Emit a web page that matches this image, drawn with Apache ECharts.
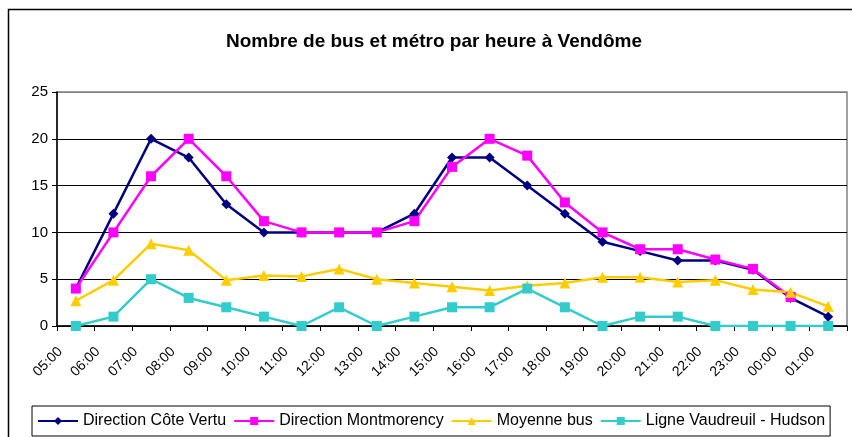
<!DOCTYPE html>
<html>
<head>
<meta charset="utf-8">
<script src="https://cdn.jsdelivr.net/npm/echarts@6/dist/echarts.min.js"></script>
<style>
  html, body { margin: 0; padding: 0; background: #fff; }
  #chart { width: 852px; height: 437px; }
</style>
</head>
<body>
<div id="chart"></div>
<script>
// Hourly departures at Vendôme
const hours = ['05:00','06:00','07:00','08:00','09:00','10:00','11:00','12:00','13:00','14:00','15:00','16:00','17:00','18:00','19:00','20:00','21:00','22:00','23:00','00:00','01:00'];
const coteVertu = [4, 12, 20, 18, 13, 10, 10, 10, 10, 12, 18, 18, 15, 12, 9, 8, 7, 7, 6, 3, 1];
const montmorency = [4, 10, 16, 20, 16, 11.2, 10, 10, 10, 11.2, 17, 20, 18.2, 13.2, 10, 8.2, 8.2, 7.1, 6.1, 3.1, null];
const moyenneBus = [2.7, 4.9, 8.8, 8.1, 4.9, 5.4, 5.3, 6.1, 5.0, 4.6, 4.2, 3.8, 4.3, 4.6, 5.2, 5.2, 4.7, 4.9, 3.9, 3.6, 2.1];
const vaudreuil = [0, 1, 5, 3, 2, 1, 0, 2, 0, 1, 2, 2, 4, 2, 0, 1, 1, 0, 0, 0, 0];
const yTicks = [0, 5, 10, 15, 20, 25];

const FONT = '"Liberation Sans", Arial, sans-serif';

function lineSeries(name, data, color, symbol, size) {
  return {
    name: name,
    type: 'line',
    data: data,
    symbol: symbol,
    symbolSize: size,
    showSymbol: true,
    connectNulls: false,
    lineStyle: { color: color, width: 2.5 },
    itemStyle: { color: color, borderWidth: 0 },
    emphasis: { disabled: true },
    animation: false
  };
}

const chart = echarts.init(document.getElementById('chart'), null, { renderer: 'canvas' });
chart.setOption({
  backgroundColor: '#fff',
  animation: false,
  title: {
    text: 'Nombre de bus et métro par heure à Vendôme',
    left: 221,
    top: 27,
    textStyle: { fontFamily: FONT, fontSize: 19, fontWeight: 'bold', color: '#000' }
  },
  graphic: [{
    type: 'rect',
    shape: { x: 8.5, y: 9.5, width: 900, height: 600 },
    style: { fill: 'none', stroke: '#000', lineWidth: 1.5 },
    silent: true
  }],
  grid: {
    left: 57, right: 5, top: 92, bottom: 111,
    show: true, borderColor: '#808080', borderWidth: 1.5, backgroundColor: 'transparent'
  },
  legend: {
    bottom: 1,
    left: 32,
    itemWidth: 40,
    itemHeight: 10,
    itemGap: 7,
    padding: [7, 5, 7, 5],
    borderColor: '#000',
    borderWidth: 1,
    textStyle: { fontFamily: FONT, fontSize: 16, color: '#000' },
    data: ['Direction Côte Vertu', 'Direction Montmorency', 'Moyenne bus', 'Ligne Vaudreuil - Hudson']
  },
  xAxis: {
    type: 'category',
    data: hours,
    boundaryGap: true,
    axisLine: { lineStyle: { color: '#000', width: 1.5 } },
    axisTick: { show: true, length: 5, lineStyle: { color: '#000', width: 1 } },
    axisLabel: {
      interval: 0,
      rotate: 45,
      margin: 8,
      padding: [0, 22, 0, 0],
      fontFamily: FONT,
      fontSize: 14,
      color: '#000'
    },
    splitLine: { show: false }
  },
  yAxis: {
    type: 'value',
    min: yTicks[0],
    max: yTicks[yTicks.length - 1],
    interval: 5,
    axisLine: { show: true, lineStyle: { color: '#000', width: 1.5 } },
    axisTick: { show: true, length: 5, lineStyle: { color: '#000', width: 1 } },
    axisLabel: { margin: 9, fontFamily: FONT, fontSize: 15, color: '#000' },
    splitLine: { show: true, lineStyle: { color: ['#000', '#000', '#000', '#000', '#000', '#808080'], width: 1.2 } }
  },
  series: [
    lineSeries('Direction Côte Vertu', coteVertu, '#000080', 'diamond', 10),
    lineSeries('Direction Montmorency', montmorency, '#FF00FF', 'rect', 10),
    lineSeries('Moyenne bus', moyenneBus, '#FFCC00', 'triangle', 11),
    lineSeries('Ligne Vaudreuil - Hudson', vaudreuil, '#33CCCC', 'rect', 10)
  ]
});
</script>
</body>
</html>
